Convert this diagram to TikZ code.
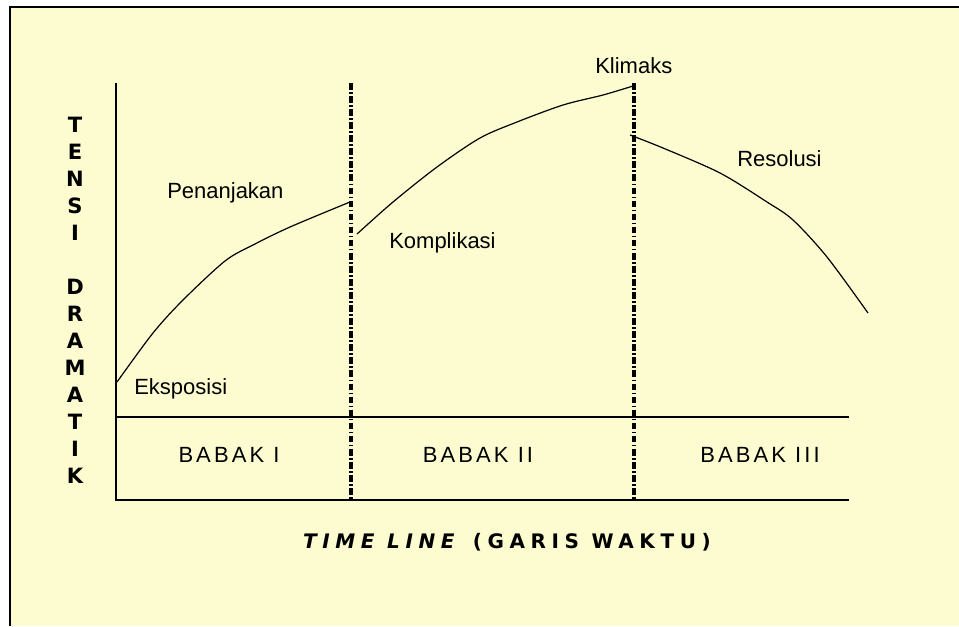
\documentclass[tikz,border=0pt]{standalone}
\usepackage{fontspec}
\setmainfont{Liberation Sans}
\newfontfamily\axisfont{DejaVu Sans}
\newfontfamily\babakfont[LetterSpace=14]{Liberation Sans}
\newfontfamily\timefont[LetterSpace=28]{DejaVu Sans}
\usetikzlibrary{positioning}
\definecolor{paper}{RGB}{252,252,208}

\begin{document}
\begin{tikzpicture}[
  x=0.75pt, y=-0.75pt,
  axis/.style={line width=1.6pt},
  rule/.style={line width=0.8pt},
  divider/.style={line width=2.8pt, dash pattern=on 5pt off 1.8pt on 1.2pt off 1.8pt},
  curve/.style={line width=0.9pt, line join=round},
  label/.style={inner sep=0pt, anchor=base west, font=\fontsize{16.5}{18}\selectfont},
  babak/.style={inner sep=0pt, anchor=base, font=\babakfont\fontsize{16.5}{18}\selectfont},
  tensi/.style={inner sep=0pt, align=center, font=\axisfont\bfseries\fontsize{15.8}{20.25}\selectfont}]
\useasboundingbox (0,0) rectangle (959,626);
\fill[white] (0,0) rectangle (959,626);
\fill[paper] (10,7) rectangle (959,626);
\draw[line width=1.3pt] (10,626) -- (10,7) -- (959,7);
\coordinate (origin) at (116,500);
\coordinate (top) at (116,83);
\coordinate (end) at (849,500);
\coordinate (base) at (116,417);
\coordinate (baseend) at (849,417);
\draw[axis] (top) -- (origin) -- (end);
\draw[rule] (base) -- (baseend);
\draw[divider] (351,83) -- (351,500);
\draw[divider] (634,83) -- (634,500);
\draw[curve] plot[smooth, tension=0.5] coordinates {(117,382) (153,333) (183,300) (225,261) (253,245) (290,227) (350,202)};
\draw[curve] plot[smooth, tension=0.5] coordinates {(357,234) (393,202) (437,167) (480,138) (517,122) (563,105) (603,95) (633,86)};
\draw[curve] plot[smooth, tension=0.5] coordinates {(630,135) (663,148) (720,173) (767,202) (793,220) (827,257) (868,313)};
\node[label] (eksposisi) at (134,394) {Eksposisi};
\node[label] (penanjakan) at (167,198) {Penanjakan};
\node[label] (komplikasi) at (389,248) {Komplikasi};
\node[label] (klimaks) at (595,73) {Klimaks};
\node[label] (resolusi) at (737,166) {Resolusi};
\node[babak] (babak1) at (229,462) {BABAK I};
\node[babak] (babak2) at (478,462) {BABAK II};
\node[babak] (babak3) at (760,462) {BABAK III};
\node[tensi] (tensiaxis) at (75,300) {T\\E\\N\\S\\I\\\mbox{}\\D\\R\\A\\M\\A\\T\\I\\K};
\node[inner sep=0pt, anchor=base, font=\timefont\bfseries\fontsize{15}{17}\selectfont] (timeline) at (507,548) {\textit{TIME LINE} (GARIS WAKTU)};
\end{tikzpicture}
\end{document}
